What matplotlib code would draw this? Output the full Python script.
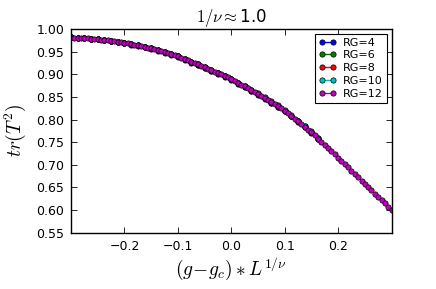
import matplotlib
matplotlib.use("Agg")
import matplotlib.pyplot as plt

# ---- data ----
labels = ["RG=4", "RG=6", "RG=8", "RG=10", "RG=12"]
colors = ["b", "g", "r", "c", "m"]

x_small = [-0.3000, -0.2875, -0.2750, -0.2625, -0.2500, -0.2375, -0.2250, -0.2125,
           -0.2000, -0.1875, -0.1750, -0.1625, -0.1500, -0.1375, -0.1250, -0.1125,
           -0.1000, -0.0875, -0.0750, -0.0625, -0.0500, -0.0375, -0.0250, -0.0125,
           0.0000, 0.0125, 0.0250, 0.0375, 0.0500, 0.0625, 0.0750, 0.0875,
           0.1000, 0.1125, 0.1250, 0.1375, 0.1500, 0.1625]

y_rg4 = [0.982, 0.981, 0.980, 0.979, 0.978, 0.976, 0.974, 0.972, 0.970,
         0.966, 0.963, 0.960, 0.957, 0.9525, 0.948, 0.9435, 0.939,
         0.932, 0.926, 0.920, 0.914, 0.9075, 0.901, 0.8945, 0.888, 0.8798,
         0.8715, 0.8633, 0.855, 0.8458, 0.8365, 0.8273, 0.818,
         0.807, 0.795, 0.783, 0.771, 0.757]
y_rg6 = [0.982, 0.981, 0.980, 0.979, 0.978, 0.976, 0.974, 0.972, 0.970,
         0.967, 0.964, 0.961, 0.958, 0.9535, 0.949, 0.9445, 0.940,
         0.933, 0.927, 0.921, 0.915, 0.9085, 0.902, 0.8955, 0.889, 0.8808,
         0.8725, 0.8643, 0.856, 0.8468, 0.8375, 0.8283, 0.819,
         0.809, 0.797, 0.785, 0.773, 0.759]
y_rg8 = [0.982, 0.981, 0.980, 0.979, 0.978, 0.976, 0.974, 0.972, 0.970,
         0.967, 0.964, 0.961, 0.958, 0.9535, 0.949, 0.9445, 0.940,
         0.934, 0.928, 0.922, 0.916, 0.9095, 0.903, 0.8965, 0.890, 0.8818,
         0.8735, 0.8653, 0.857, 0.8478, 0.8385, 0.8293, 0.820,
         0.808, 0.796, 0.784, 0.772, 0.758]
y_rg10 = [0.982, 0.981, 0.980, 0.979, 0.978, 0.976, 0.974, 0.972, 0.970,
          0.967, 0.964, 0.961, 0.958, 0.9535, 0.949, 0.9445, 0.940,
          0.934, 0.928, 0.922, 0.916, 0.9095, 0.903, 0.8965, 0.890, 0.8818,
          0.8735, 0.8653, 0.859, 0.8498, 0.8405, 0.8313, 0.822,
          0.810, 0.798, 0.786, 0.774, 0.760]

x_rg12 = [-0.3000, -0.2938, -0.2875, -0.2813, -0.2750, -0.2688, -0.2625, -0.2563,
          -0.2500, -0.2438, -0.2375, -0.2313, -0.2250, -0.2188, -0.2125, -0.2063,
          -0.2000, -0.1938, -0.1875, -0.1813, -0.1750, -0.1688, -0.1625, -0.1563,
          -0.1500, -0.1438, -0.1375, -0.1313, -0.1250, -0.1188, -0.1125, -0.1063,
          -0.1000, -0.0938, -0.0875, -0.0813, -0.0750, -0.0688, -0.0625, -0.0563,
          -0.0500, -0.0438, -0.0375, -0.0313, -0.0250, -0.0188, -0.0125, -0.0063,
          0.0000, 0.0063, 0.0125, 0.0188, 0.0250, 0.0313, 0.0375, 0.0438,
          0.0500, 0.0563, 0.0625, 0.0688, 0.0750, 0.0813, 0.0875, 0.0938,
          0.1000, 0.1063, 0.1125, 0.1188, 0.1250, 0.1313, 0.1375, 0.1438,
          0.1500, 0.1563, 0.1625, 0.1688, 0.1750, 0.1813, 0.1875, 0.1938,
          0.2000, 0.2063, 0.2125, 0.2188, 0.2250, 0.2313, 0.2375, 0.2438,
          0.2500, 0.2563, 0.2625, 0.2688, 0.2750, 0.2813, 0.2875, 0.2938,
          0.3000]
y_rg12 = [0.982, 0.9815, 0.981, 0.9805, 0.980, 0.9795, 0.979, 0.9785,
          0.978, 0.977, 0.976, 0.975, 0.974, 0.973, 0.972, 0.971,
          0.970, 0.9685, 0.967, 0.9655, 0.964, 0.9625, 0.961, 0.9595,
          0.958, 0.9558, 0.9535, 0.9513, 0.949, 0.9468, 0.9445, 0.9423,
          0.940, 0.937, 0.934, 0.931, 0.928, 0.925, 0.922, 0.919,
          0.916, 0.9128, 0.9095, 0.9063, 0.903, 0.8998, 0.8965, 0.8933,
          0.890, 0.8859, 0.8818, 0.8776, 0.8735, 0.8694, 0.8653, 0.8611,
          0.857, 0.8524, 0.8478, 0.8431, 0.8385, 0.8339, 0.8293, 0.8246,
          0.820, 0.814, 0.808, 0.802, 0.796, 0.790, 0.784, 0.778,
          0.772, 0.765, 0.758, 0.751, 0.744, 0.737, 0.730, 0.723,
          0.716, 0.7088, 0.7015, 0.6943, 0.687, 0.6798, 0.6725, 0.6653,
          0.658, 0.6508, 0.6435, 0.6363, 0.629, 0.6218, 0.6145, 0.6073,
          0.600]

xticks = [-0.2, -0.1, 0.0, 0.1, 0.2]
yticks = [0.55, 0.60, 0.65, 0.70, 0.75, 0.80, 0.85, 0.90, 0.95, 1.00]

# ---- plot ----
plt.rcParams['mathtext.fontset'] = 'cm'
plt.rcParams['font.family'] = ['DejaVu Sans']

fig = plt.figure(figsize=(4.36, 2.89), dpi=100, facecolor='white')
ax = fig.add_axes([0.163, 0.195, 0.735, 0.704])

series = [(x_small, y_rg4), (x_small, y_rg6), (x_small, y_rg8),
          (x_small, y_rg10), (x_rg12, y_rg12)]
for (xs, ys), c, lab in zip(series, colors, labels):
    ax.plot(xs, ys, '-o', color=c, markerfacecolor=c, markeredgecolor='k',
            markeredgewidth=0.5, markersize=3.8, linewidth=1.0, label=lab)

ax.set_xlim(-0.3, 0.3)
ax.set_ylim(0.55, 1.00)
ax.set_xticks(xticks)
ax.set_yticks(yticks)
ax.set_yticklabels([f"{v:.2f}" for v in yticks])
ax.set_xticklabels([f"{v:.1f}".replace('-', '\u2212') for v in xticks])
ax.tick_params(direction='in', top=True, right=True, labelsize=9,
               length=4, width=0.6, pad=5)
for s in ax.spines.values():
    s.set_linewidth(1.0)

ax.set_xlabel(r"$(g\!-\!g_c)*L^{1/\nu}$", fontsize=14, labelpad=2)
ax.set_ylabel(r"$tr(T^2)$", fontsize=14, labelpad=6)
ax.set_title(r"$1/\nu\approx$1.0", fontsize=12, pad=5)

leg = ax.legend(loc='upper right', numpoints=2, fancybox=False, fontsize=8,
                handlelength=1.6, handletextpad=0.6, borderpad=0.35,
                labelspacing=0.25, borderaxespad=0.4, framealpha=1)
leg.get_frame().set_edgecolor('k')
leg.get_frame().set_linewidth(0.8)

fig.savefig("out.png", dpi=100, facecolor='white')
